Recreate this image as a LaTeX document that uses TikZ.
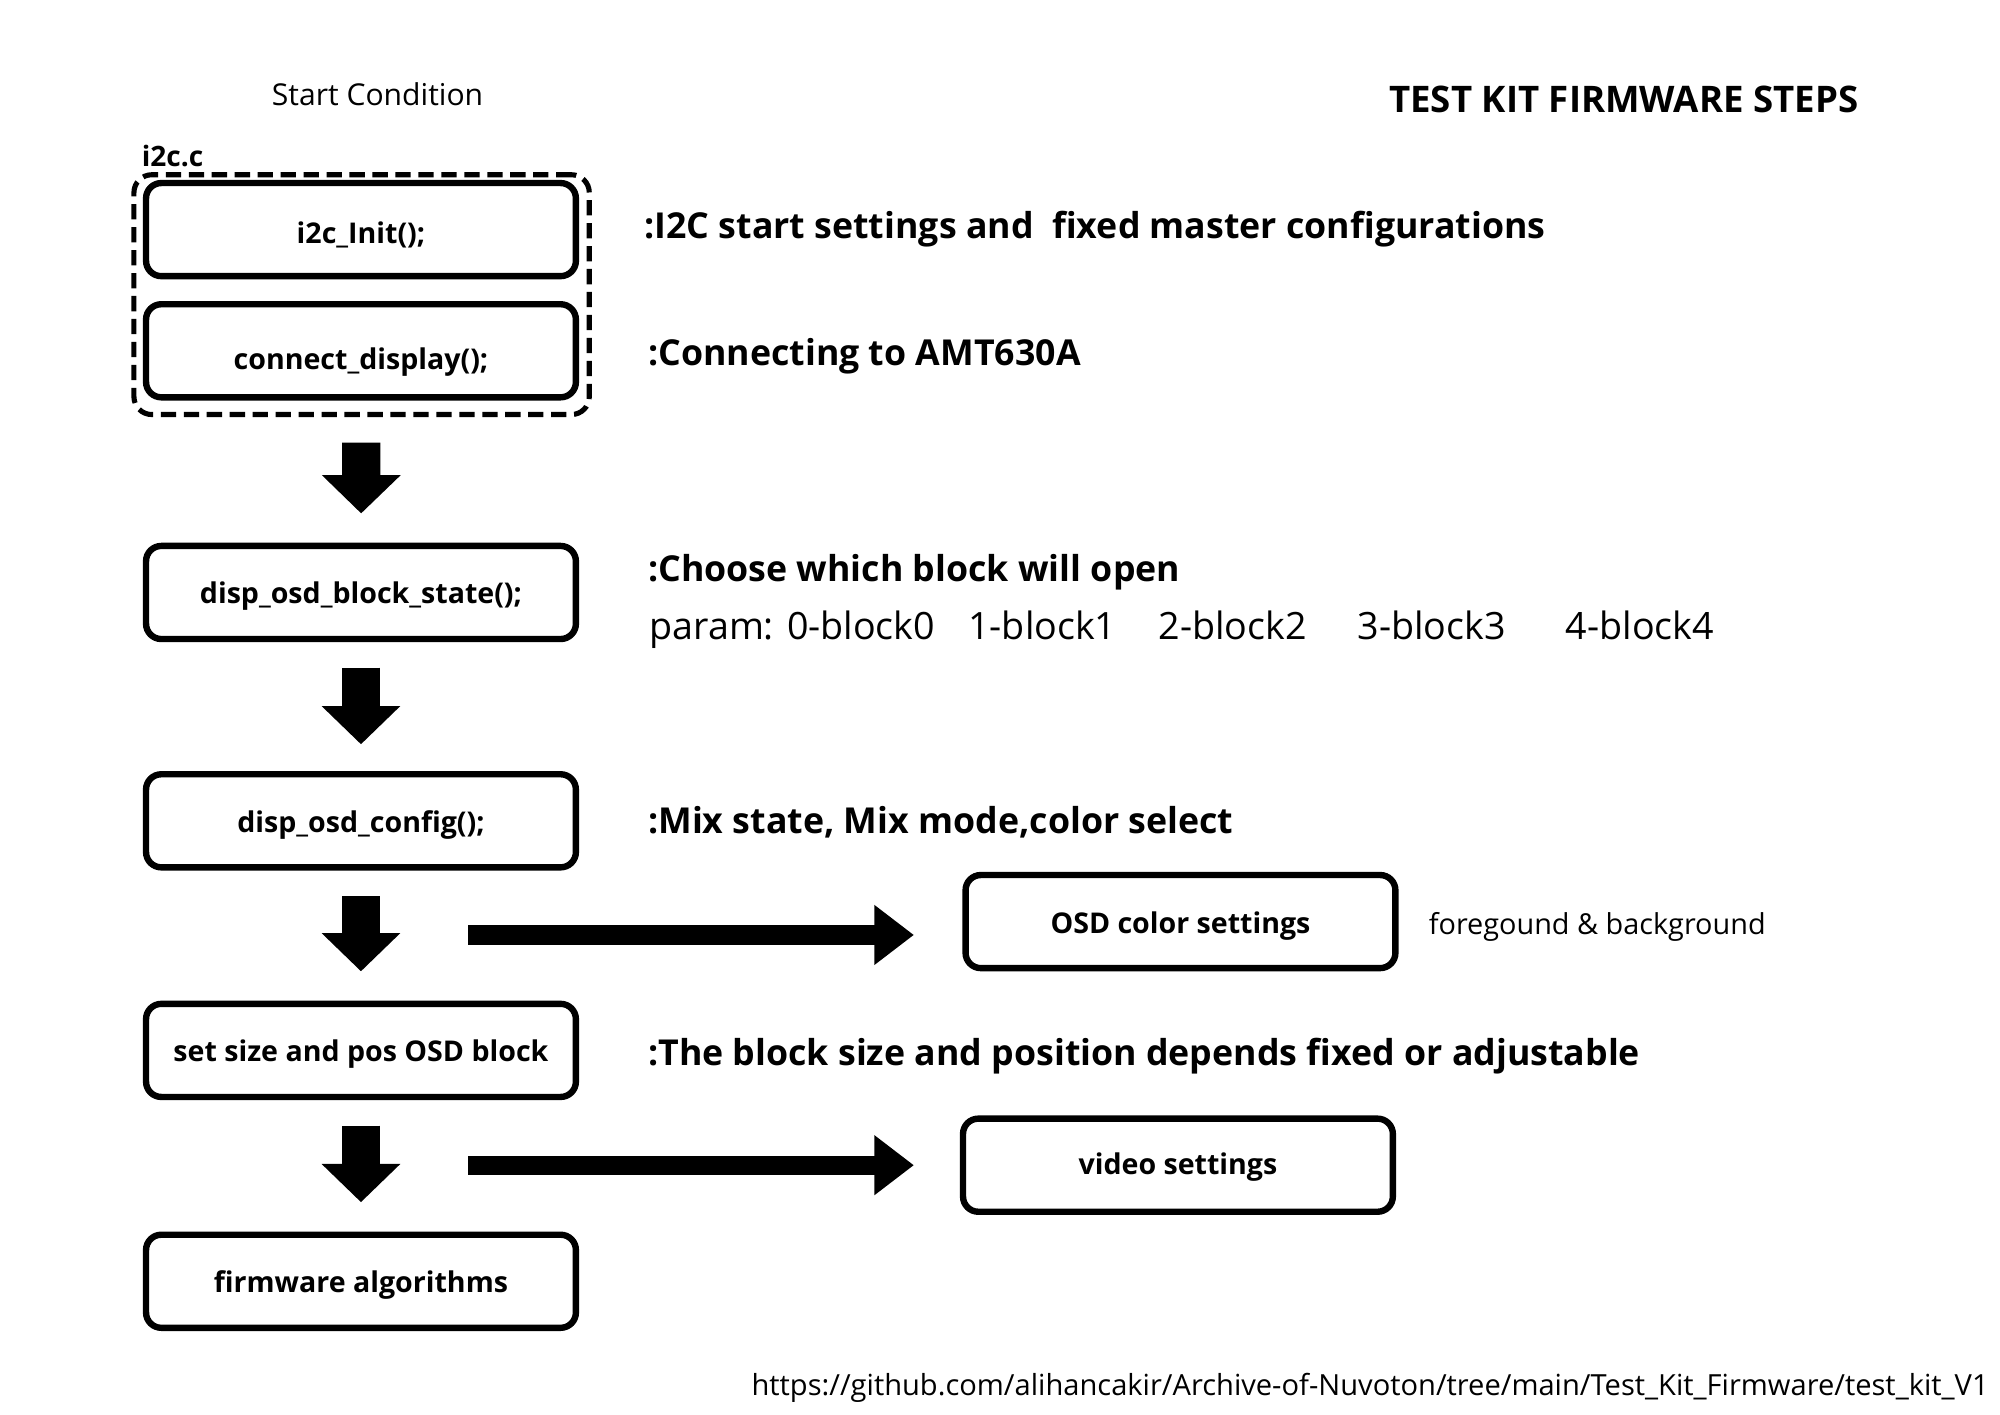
\documentclass[tikz,border=0pt]{standalone}
\usepackage{fontspec}
\setmainfont{Open Sans}
\usetikzlibrary{arrows.meta}
\begin{document}
\begin{tikzpicture}[x=1pt, y=-1pt,
    stepbox/.style={draw, line width=5pt, rounded corners=12pt, minimum width=337pt, minimum height=73pt, inner sep=0pt, text height=20pt, text depth=2pt, font=\fontsize{22.4}{26}\selectfont\bfseries},
    filebox/.style={draw, line width=4pt, dash pattern=on 12pt off 6pt, rounded corners=14pt, minimum width=357pt, minimum height=188pt, inner sep=0pt},
    bigarrow/.style={line width=30pt, -{Triangle[length=30pt, width=60pt]}, shorten <=20pt, shorten >=23pt},
    sidearrow/.style={line width=15pt, -{Triangle[length=31pt, width=45pt]}},
    notebold/.style={anchor=west, inner sep=0pt, font=\fontsize{28}{32}\selectfont\bfseries},
    note/.style={anchor=west, inner sep=0pt, font=\fontsize{22.6}{26}\selectfont}]
    \useasboundingbox (0,0) rectangle (1568,1109);

    \node[inner sep=0pt, font=\fontsize{23.6}{28}\selectfont] (start) at (296,74) {Start Condition};
    \node[inner sep=0pt, font=\fontsize{28.7}{32}\selectfont\bfseries] (title) at (1273,78) {TEST KIT FIRMWARE STEPS};

    % i2c.c steps
    \node[filebox] (i2cfile) at (283.5,231) {};
    \node[anchor=west, inner sep=0pt, font=\fontsize{22}{26}\selectfont\bfseries] (i2cname) at (111,122) {i2c.c};
    \node[stepbox, text height=24pt] (init) at (283,180) {i2c\_Init();};
    \node[stepbox, text height=32pt] (connect) at (283,275) {connect\_display();};

    \node[stepbox] (blockstate) at (283,464.5) {disp\_osd\_block\_state();};
    \node[stepbox] (config) at (283,643.5) {disp\_osd\_config();};
    \node[stepbox] (sizepos) at (283,823.5) {set size and pos OSD block};
    \node[stepbox] (algo) at (283,1004.5) {firmware algorithms};

    \node[stepbox, text height=21pt] (color) at (925.5,722.5) {OSD color settings};
    \node[stepbox, text height=16pt] (video) at (923.5,913.5) {video settings};

    \draw[bigarrow] (i2cfile) -- (blockstate);
    \draw[bigarrow, shorten >=21pt] (blockstate) -- (config);
    \draw[bigarrow] (config) -- (sizepos);
    \draw[bigarrow] (sizepos) -- (algo);

    \coordinate (colorfrom) at (367,733);
    \coordinate (videofrom) at (367,913.5);
    \draw[sidearrow, shorten >=38pt] (colorfrom) -- (colorfrom -| color.west);
    \draw[sidearrow, shorten >=36pt] (videofrom) -- (video.west);

    % descriptions
    \node[notebold] (initnote) at (505,180) {:I2C start settings and \ fixed master configurations};
    \node[notebold] (connectnote) at (508,279) {:Connecting to AMT630A};
    \node[notebold] (statenote) at (508,449) {:Choose which block will open};
    \node[note, font=\fontsize{29.5}{34}\selectfont] (paramnote) at (509,494) {param: 0-block0\hspace{26pt}1-block1\hspace{33pt}2-block2\hspace{40pt}3-block3\hspace{47pt}4-block4};
    \node[notebold] (confignote) at (508,645) {:Mix state, Mix mode,color select};
    \node[notebold] (sizenote) at (508,828) {:The block size and position depends fixed or adjustable};
    \node[note] (colornote) at (1120,727) {foregound \& background};

    \node[note, font=\fontsize{22.8}{27}\selectfont] (link) at (589,1088) {https://github.com/alihancakir/Archive-of-Nuvoton/tree/main/Test\_Kit\_Firmware/test\_kit\_V1};
\end{tikzpicture}
\end{document}
